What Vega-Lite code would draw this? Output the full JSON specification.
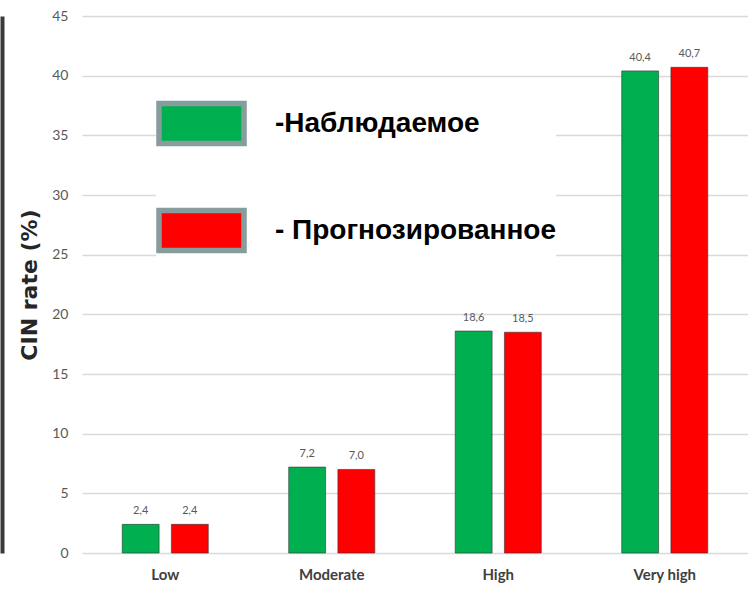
{
  "$schema": "https://vega.github.io/schema/vega-lite/v6.json",
  "width": 666,
  "height": 537,
  "autosize": "none",
  "padding": {"left": 82, "top": 16, "right": 0, "bottom": 41},
  "background": "white",
  "config": {"view": {"stroke": null}},
  "data": {
    "values": [
      {"risk": "Low", "series": "-Наблюдаемое", "value": 2.4},
      {"risk": "Low", "series": "- Прогнозированное", "value": 2.4},
      {"risk": "Moderate", "series": "-Наблюдаемое", "value": 7.2},
      {"risk": "Moderate", "series": "- Прогнозированное", "value": 7.0},
      {"risk": "High", "series": "-Наблюдаемое", "value": 18.6},
      {"risk": "High", "series": "- Прогнозированное", "value": 18.5},
      {"risk": "Very high", "series": "-Наблюдаемое", "value": 40.4},
      {"risk": "Very high", "series": "- Прогнозированное", "value": 40.7}
    ]
  },
  "transform": [
    {"calculate": "replace(format(datum.value, '.1f'), '.', ',')", "as": "label"}
  ],
  "encoding": {
    "x": {
      "field": "risk",
      "type": "nominal",
      "sort": ["Low", "Moderate", "High", "Very high"],
      "scale": {"paddingInner": 0.483, "paddingOuter": 0.2415},
      "axis": {
        "title": null,
        "labelAngle": 0,
        "domain": false,
        "ticks": false,
        "labelPadding": 14,
        "labelFont": "Lato",
        "labelFontWeight": "bold",
        "labelFontSize": 15,
        "labelColor": "#404040"
      }
    },
    "xOffset": {
      "field": "series",
      "type": "nominal",
      "sort": ["-Наблюдаемое", "- Прогнозированное"],
      "scale": {"paddingInner": 0.25, "paddingOuter": 0}
    }
  },
  "layer": [
    {
      "mark": {"type": "bar"},
      "encoding": {
        "y": {
          "field": "value",
          "type": "quantitative",
          "scale": {"domain": [0, 45], "nice": false},
          "axis": {
            "values": [0, 5, 10, 15, 20, 25, 30, 35, 40, 45],
            "domain": false,
            "ticks": false,
            "gridColor": "#d9d9d9",
            "gridWidth": 1.5,
            "labelPadding": 14,
            "labelFont": "Lato",
            "labelFontSize": 14,
            "labelColor": "#595959",
            "title": "CIN rate (%)",
            "titleFont": "DejaVu Sans",
            "titleFontSize": 22,
            "titleFontWeight": "bold",
            "titleColor": "#262626",
            "titlePadding": 10
          }
        },
        "fill": {
          "field": "series",
          "type": "nominal",
          "scale": {"domain": ["-Наблюдаемое", "- Прогнозированное"], "range": ["#00B050", "#FF0000"]},
          "legend": {
            "orient": "none",
            "legendX": 74,
            "legendY": 62,
            "title": null,
            "padding": 0,
            "fillColor": "white",
            "symbolType": "M-1,-0.47H1V0.47H-1Z",
            "symbolSize": 7225,
            "symbolStrokeColor": "#879c9c",
            "symbolStrokeWidth": 5.5,
            "labelFont": "Liberation Sans",
            "labelFontWeight": "bold",
            "labelFontSize": 28,
            "labelColor": "black",
            "labelOffset": 28,
            "rowPadding": 30,
            "labelLimit": 500
          }
        }
      }
    },
    {
      "mark": {"type": "bar", "filled": false, "stroke": "#333333", "strokeOpacity": 0.6, "strokeWidth": 1},
      "encoding": {
        "y": {"field": "value", "type": "quantitative", "axis": null}
      }
    },
    {
      "mark": {"type": "text", "baseline": "bottom", "dy": -8, "font": "Lato", "fontSize": 11, "color": "#595959"},
      "encoding": {
        "text": {"field": "label"},
        "y": {
          "field": "value",
          "type": "quantitative",
          "axis": {
            "orient": "left",
            "offset": 80,
            "domain": true,
            "domainColor": "#3a3a3a",
            "domainWidth": 4,
            "ticks": false,
            "labels": false,
            "grid": false,
            "title": null
          }
        }
      }
    }
  ],
  "resolve": {"axis": {"y": "independent"}}
}
